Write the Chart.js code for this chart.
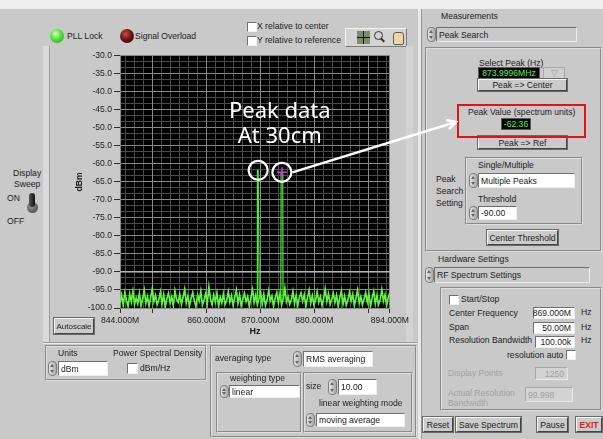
<!DOCTYPE html>
<html>
<head>
<meta charset="utf-8">
<title>RF Spectrum</title>
<script src="https://cdn.jsdelivr.net/npm/chart.js@4.4.1/dist/chart.umd.min.js"></script>
<style>
  body { margin: 0; width: 603px; height: 439px; position: relative; overflow: hidden;
         background: #c9c9c9; font-family: "Liberation Sans", Arial, sans-serif; color: #1c1c1c; }
  .t { position: absolute; white-space: nowrap; font-size: 8.6px; line-height: 10px; }
  .dim { color: #a2a2a2; }
  .fld { position: absolute; display: flex; align-items: center; box-sizing: border-box; background: #fff;
         border: 1px solid; border-color: #707070 #eeeeee #eeeeee #707070; font-size: 8.6px;
         padding-left: 2px; white-space: nowrap; }
  .fld.gray { background: #c9c9c9; }
  .fld.off { background: #d3d3d3; color: #a0a0a0; border-color: #a8a8a8 #e8e8e8 #e8e8e8 #a8a8a8; }
  .fld.num { justify-content: flex-end; padding-right: 3px; }
  .spin { position: absolute; width: 9px; box-sizing: border-box; border-radius: 4px;
          background: linear-gradient(90deg, #e6e6e6, #a9a9a9); border: 1px solid #7c7c7c; }
  .spin::before, .spin::after { content: ''; position: absolute; left: 1px;
          border-left: 2.5px solid transparent; border-right: 2.5px solid transparent; }
  .spin::before { top: 2px; border-bottom: 3px solid #666; }
  .spin::after { bottom: 2px; border-top: 3px solid #666; }
  .btn { position: absolute; display: flex; align-items: center; justify-content: center; box-sizing: border-box;
         background: #cbcbcb; border: 1px solid; border-color: #f7f7f7 #444 #444 #f7f7f7;
         box-shadow: 0 0 0 1px #6a6a6a; font-size: 8.6px; white-space: nowrap; }
  .frm { position: absolute; box-sizing: border-box; border: 2px groove #dedede; }
  .chk { position: absolute; width: 10px; height: 10px; box-sizing: border-box; background: #fff;
         border: 1px solid; border-color: #707070 #f0f0f0 #f0f0f0 #707070; }
  .disp { position: absolute; display: flex; align-items: center; justify-content: center; box-sizing: border-box;
          background: #060606; color: #4cf04c; font-size: 8.6px; border: 1px solid #5a5a5a; }
  .led { position: absolute; width: 14px; height: 14px; border-radius: 50%; }
  #spectrum { position: absolute; left: 44px; top: 44px; }
  #overlay { position: absolute; left: 0; top: 0; pointer-events: none; }
</style>
</head>
<body>

<!-- top strip and status lamps -->
<div style="position:absolute;left:0;top:0;width:603px;height:9px;background:#eeeeee"></div>
<div class="led" style="left:50px;top:29px;background:radial-gradient(circle at 40% 35%, #d8ffb8, #52e03a 45%, #1f9a1f)"></div>
<div class="t" style="left:67px;top:31px">PLL Lock</div>
<div class="led" style="left:120px;top:29px;background:radial-gradient(circle at 40% 35%, #c25050, #6a1010 50%, #2a0404)"></div>
<div class="t" style="left:135px;top:31px">Signal Overload</div>
<div class="chk" style="left:247px;top:22px"></div>
<div class="t" style="left:257px;top:21px">X relative to center</div>
<div class="chk" style="left:247px;top:36px"></div>
<div class="t" style="left:257px;top:35px">Y relative to reference</div>

<!-- graph palette -->
<div style="position:absolute;left:345px;top:28px;width:62px;height:19px;box-sizing:border-box;background:#d3d3d3;border:1px solid;border-color:#f4f4f4 #7a7a7a #7a7a7a #f4f4f4"></div>
<div style="position:absolute;left:357px;top:31px;width:13px;height:13px;background:#7d8c6a"></div>
<div style="position:absolute;left:363px;top:31px;width:1px;height:13px;background:#111"></div>
<div style="position:absolute;left:357px;top:37px;width:13px;height:1px;background:#111"></div>
<div style="position:absolute;left:374px;top:31px;width:7px;height:7px;border:1.5px solid #333;border-radius:50%"></div>
<div style="position:absolute;left:380px;top:39px;width:5px;height:2px;background:#333;transform:rotate(45deg)"></div>
<div style="position:absolute;left:393px;top:32px;width:9px;height:11px;background:#e8d8b0;border:1px solid #6a5a3a;border-radius:3px 3px 2px 2px"></div>

<!-- graph frame -->
<div style="position:absolute;left:43px;top:46px;width:6px;height:297px;background:#dadada"></div>
<div style="position:absolute;left:49px;top:46px;width:1px;height:297px;background:#9c9c9c"></div>
<div style="position:absolute;left:406px;top:46px;width:7px;height:297px;background:#d3d3d3"></div>
<div style="position:absolute;left:43px;top:342px;width:375px;height:1px;background:#9a9a9a"></div>
<div style="position:absolute;left:43px;top:343px;width:375px;height:1px;background:#ececec"></div>
<canvas id="spectrum" width="367" height="300"></canvas>
<div class="btn" style="left:54px;top:318px;width:40px;height:16px;font-size:8px">Autoscale</div>

<!-- sweep switch -->
<div class="t" style="left:13px;top:168px">Display</div>
<div class="t" style="left:14px;top:179px">Sweep</div>
<div class="t" style="left:7px;top:193px">ON</div>
<div class="t" style="left:7px;top:216px">OFF</div>
<div style="position:absolute;left:27px;top:202px;width:11px;height:11px;border-radius:50%;background:radial-gradient(circle at 40% 35%, #9a9a9a, #3a3a3a)"></div>
<div style="position:absolute;left:29px;top:193px;width:6px;height:14px;border-radius:3px;background:linear-gradient(90deg,#555,#111)"></div>

<!-- panel divider -->
<div style="position:absolute;left:418px;top:9px;width:3px;height:430px;background:#e8e8e8"></div>
<div style="position:absolute;left:421px;top:9px;width:1px;height:430px;background:#9a9a9a"></div>

<!-- measurements -->
<div class="t" style="left:441px;top:11px">Measurements</div>
<div class="spin" style="left:427px;top:27px;height:15px"></div>
<div class="fld gray" style="left:436px;top:27px;width:141px;height:15px">Peak Search</div>
<div class="frm" style="left:425px;top:47px;width:177px;height:205px"></div>
<div class="t" style="left:479px;top:58px">Select Peak (Hz)</div>
<div class="disp" id="selPeak" style="left:478px;top:67px;width:62px;height:12px"></div>
<div style="position:absolute;left:543px;top:67px;width:22px;height:12px;box-sizing:border-box;background:#cfcfcf;border:1px solid #a8a8a8;color:#9a9a9a;font-size:9px;line-height:10px;text-align:center">&#9661;</div>
<div class="btn" style="left:478px;top:79px;width:89px;height:12px">Peak =&gt; Center</div>
<div class="btn" style="left:478px;top:136px;width:89px;height:13px">Peak =&gt; Ref</div>
<div id="peakBox" style="position:absolute;left:457px;top:104px;width:129px;height:34px;box-sizing:border-box;border:2px solid #e01414"></div>
<div class="t" style="left:468px;top:107px">Peak Value (spectrum units)</div>
<div class="disp" id="peakVal" style="left:501px;top:118px;width:30px;height:12px"></div>
<div class="t" style="left:436px;top:174px">Peak</div>
<div class="t" style="left:436px;top:186px">Search</div>
<div class="t" style="left:436px;top:198px">Setting</div>
<div class="frm" style="left:465px;top:157px;width:118px;height:68px"></div>
<div class="t" style="left:478px;top:160px">Single/Multiple</div>
<div class="spin" style="left:469px;top:173px;height:15px"></div>
<div class="fld" style="left:478px;top:173px;width:97px;height:15px">Multiple Peaks</div>
<div class="t" style="left:478px;top:194px">Threshold</div>
<div class="spin" style="left:469px;top:206px;height:14px"></div>
<div class="fld" id="thrVal" style="left:478px;top:206px;width:39px;height:14px"></div>
<div class="btn" style="left:487px;top:230px;width:71px;height:15px">Center Threshold</div>

<!-- hardware -->
<div class="t" style="left:438px;top:254px">Hardware Settings</div>
<div class="spin" style="left:425px;top:267px;height:16px"></div>
<div class="fld gray" style="left:434px;top:267px;width:156px;height:16px">RF Spectrum Settings</div>
<div class="frm" style="left:440px;top:287px;width:162px;height:124px"></div>
<div class="chk" style="left:449px;top:295px"></div>
<div class="t" style="left:461px;top:294px">Start/Stop</div>
<div class="t" style="left:449px;top:308px">Center Frequency</div>
<div class="fld num" id="centerVal" style="left:533px;top:307px;width:42px;height:12px"></div>
<div class="t" style="left:581px;top:307px">Hz</div>
<div class="t" style="left:449px;top:322px">Span</div>
<div class="fld num" id="spanVal" style="left:533px;top:322px;width:42px;height:12px"></div>
<div class="t" style="left:581px;top:322px">Hz</div>
<div class="t" style="left:449px;top:335px">Resolution Bandwidth</div>
<div class="fld num" style="left:535px;top:336px;width:40px;height:12px">100.00k</div>
<div class="t" style="left:581px;top:335px">Hz</div>
<div class="t" style="left:507px;top:350px">resolution auto</div>
<div class="chk" style="left:566px;top:350px"></div>
<div class="t dim" style="left:448px;top:368px">Display Points</div>
<div class="fld off num" style="left:535px;top:367px;width:33px;height:13px">1250</div>
<div class="t dim" style="left:448px;top:388px">Actual Resolution</div>
<div class="t dim" style="left:448px;top:398px">Bandwidth</div>
<div class="fld off" style="left:525px;top:387px;width:48px;height:15px">99.998</div>
<div class="btn" style="left:423px;top:417px;width:30px;height:15px">Reset</div>
<div class="btn" style="left:456px;top:417px;width:65px;height:15px">Save Spectrum</div>
<div class="btn" style="left:537px;top:417px;width:31px;height:15px">Pause</div>
<div class="btn" style="left:576px;top:417px;width:26px;height:15px;color:#e01a1a;font-weight:bold">EXIT</div>

<!-- units / averaging -->
<div class="frm" style="left:45px;top:345px;width:162px;height:36px"></div>
<div class="t" style="left:58px;top:348px">Units</div>
<div class="spin" style="left:48px;top:361px;height:15px"></div>
<div class="fld" style="left:58px;top:361px;width:50px;height:15px">dBm</div>
<div class="t" style="left:113px;top:348px">Power Spectral Density</div>
<div class="chk" style="left:127px;top:363px;width:11px;height:11px"></div>
<div class="t" style="left:140px;top:363px">dBm/Hz</div>
<div class="frm" style="left:210px;top:345px;width:207px;height:93px"></div>
<div class="t" style="left:215px;top:353px">averaging type</div>
<div class="spin" style="left:293px;top:351px;height:16px"></div>
<div class="fld" style="left:303px;top:351px;width:70px;height:16px">RMS averaging</div>
<div class="frm" style="left:216px;top:372px;width:86px;height:61px"></div>
<div class="t" style="left:230px;top:373px">weighting type</div>
<div class="spin" style="left:220px;top:385px;height:13px"></div>
<div class="fld" style="left:229px;top:385px;width:71px;height:13px">linear</div>
<div class="frm" style="left:303px;top:372px;width:110px;height:61px"></div>
<div class="t" style="left:306px;top:381px">size</div>
<div class="spin" style="left:328px;top:379px;height:16px"></div>
<div class="fld" style="left:338px;top:379px;width:39px;height:16px">10.00</div>
<div class="t" style="left:319px;top:398px">linear weighting mode</div>
<div class="spin" style="left:306px;top:413px;height:14px"></div>
<div class="fld" style="left:316px;top:413px;width:89px;height:14px">moving average</div>

<svg id="overlay" width="603" height="439"></svg>

<script>
// sweep span (MHz)
const freqStart = 844;
const freqStop = 894;

// spectrum trace, dBm, evenly spaced over the span
const noiseDbm = [
    -98.6, -96.4, -99.2, -95.8, -97.9, -99.6, -96.1, -98.3, -95.4, -99.0, -97.2, -98.8,
    -96.0, -99.4, -97.5, -95.1, -98.7, -96.8, -99.5, -97.0, -94.6, -98.2, -96.5, -99.1,
    -97.8, -95.6, -98.9, -96.3, -99.7, -97.4, -95.9, -98.5, -96.9, -99.3, -95.2, -97.6,
    -98.4, -96.2, -99.0, -97.1, -94.8, -98.6, -96.7, -99.4, -97.3, -95.7, -98.1, -99.6,
    -96.5, -98.0, -95.3, -99.2, -97.7, -96.0, -98.8, -94.2, -97.5, -99.1, -96.4, -98.3,
    -95.8, -99.5, -97.0, -98.6, -96.1, -99.0, -97.9, -95.5, -98.4, -96.6, -99.3, -97.2,
    -95.0, -98.7, -96.3, -99.4, -97.6, -95.9, -98.2, -96.8, -99.6, -97.1, -94.9, -98.5,
    -96.4, -99.1, -97.4, -95.6, -98.9, -96.2, -99.3, -97.8, -95.2, -98.0, -96.7, -99.5,
    -97.3, -95.7, -98.6, -96.0, -99.2, -97.5, -94.5, -98.3, -96.9, -99.0, -97.7, -95.4,
    -98.8, -96.5, -99.4, -97.0, -95.8, -98.1, -96.3, -99.6, -97.2, -95.1, -98.7, -96.6,
    -99.1, -97.9, -95.5, -98.4, -96.8, -99.3, -97.4, -94.7, -98.2, -96.1, -99.0, -97.6,
    -95.9, -98.5, -96.4, -99.5, -97.1, -95.3, -98.9, -96.7, -99.2, -97.8, -95.6, -98.0,
    -96.2, -99.4, -97.3, -95.0, -98.6, -96.9, -99.1, -97.5, -95.7, -98.3, -96.0, -99.6,
    -97.2, -95.4, -98.8, -96.5, -99.0, -97.7, -94.9, -98.1, -96.3, -99.3, -97.0, -95.8
];

// detected peaks (MHz, dBm)
const peakFreqs = [869.6, 873.9996];
const peakDbm = [-61.8, -62.36];
const selectedPeak = 1;
const peakFloorDbm = -97.5;

const thresholdDbm = -90;

// axis ticks
const xTickValues = [844, 850, 860, 870, 880, 890, 894];
const xLabelled = [844, 860, 870, 880, 894];
const yMin = -100;
const yMax = -30;
const yStep = 5;

const noteLines = ['Peak data', 'At 30cm'];
const noteAt = { x: 873.6, y: [-47.4, -54.3] };

const markerRadius = 9.5;
const font = '"Liberation Sans", Arial, sans-serif';

// readouts on the panel come from the same values the graph uses
document.getElementById('selPeak').textContent = peakFreqs[selectedPeak].toFixed(4) + 'MHz';
document.getElementById('peakVal').textContent = peakDbm[selectedPeak].toFixed(2);
document.getElementById('thrVal').textContent = thresholdDbm.toFixed(2);
document.getElementById('centerVal').textContent = ((freqStart + freqStop) / 2).toFixed(3) + 'M';
document.getElementById('spanVal').textContent = (freqStop - freqStart).toFixed(2) + 'M';

const noiseStep = (freqStop - freqStart) / (noiseDbm.length - 1);
const spectrum = noiseDbm.map((v, i) => ({ x: freqStart + i * noiseStep, y: v }));

// each peak is a narrow flat-topped spike, broken from the next one
const peakTrace = [];
peakFreqs.forEach((f, i) => {
    peakTrace.push({ x: f - 0.2, y: peakFloorDbm });
    peakTrace.push({ x: f - 0.15, y: peakDbm[i] });
    peakTrace.push({ x: f, y: peakDbm[i] });
    peakTrace.push({ x: f + 0.15, y: peakDbm[i] });
    peakTrace.push({ x: f + 0.2, y: peakFloorDbm });
    peakTrace.push({ x: f + 0.21, y: null });
});

// minor grid positions
const xMinorTicks = [];
for (let v = 845; v < freqStop; v += 10 / 6) xMinorTicks.push({ value: v });
const yMinorTicks = [];
for (let v = yMin; v <= yMax + 0.01; v += yStep / 3) yMinorTicks.push({ value: v });

const plotBackground = {
    id: 'plotBackground',
    beforeDraw(chart) {
        const { ctx, chartArea: a } = chart;
        ctx.save();
        ctx.fillStyle = '#000';
        ctx.fillRect(a.left, a.top, a.width, a.height);
        ctx.restore();
    }
};

const noteText = {
    id: 'noteText',
    afterDatasetsDraw(chart) {
        const { ctx, scales: { x, y } } = chart;
        ctx.save();
        ctx.fillStyle = '#fff';
        ctx.font = '22px "Noto Sans", sans-serif';
        ctx.textAlign = 'center';
        noteLines.forEach((line, i) => {
            ctx.fillText(line, x.getPixelForValue(noteAt.x), y.getPixelForValue(noteAt.y[i]));
        });
        ctx.restore();
    }
};

const chart = new Chart(document.getElementById('spectrum'), {
    type: 'line',
    data: {
        datasets: [
            {
                label: 'Marker',
                data: peakFreqs.map((f, i) => ({ x: f, y: peakDbm[i] })),
                showLine: false,
                pointRadius: markerRadius,
                pointBorderColor: '#ffffff',
                pointBorderWidth: 2.2,
                pointBackgroundColor: 'transparent',
                order: 0
            },
            {
                label: 'Cursor',
                data: [{ x: peakFreqs[selectedPeak], y: peakDbm[selectedPeak] }],
                showLine: false,
                pointStyle: 'cross',
                pointRadius: 5,
                pointBorderColor: '#e030e0',
                pointBorderWidth: 1.5,
                order: 0
            },
            {
                label: 'Peaks',
                data: peakTrace,
                borderColor: '#4fe83a',
                borderWidth: 1.2,
                pointRadius: 0,
                order: 1
            },
            {
                label: 'Spectrum',
                data: spectrum,
                borderColor: '#5cf83a',
                borderWidth: 1.7,
                pointRadius: 0,
                order: 2
            },
            {
                label: 'Threshold',
                data: [{ x: freqStart, y: thresholdDbm }, { x: freqStop, y: thresholdDbm }],
                borderColor: '#d8d8d8',
                borderWidth: 1,
                pointRadius: 0,
                order: 3
            }
        ]
    },
    options: {
        responsive: false,
        animation: false,
        events: [],
        layout: { padding: { left: 26, right: 20, top: 9, bottom: 0 } },
        plugins: { legend: { display: false }, tooltip: { enabled: false } },
        scales: {
            x: {
                type: 'linear',
                position: 'bottom',
                min: freqStart,
                max: freqStop,
                afterBuildTicks: s => { s.ticks = xTickValues.map(v => ({ value: v })); },
                afterFit: s => { s.height = 36; },
                ticks: {
                    autoSkip: false,
                    maxRotation: 0,
                    padding: 2,
                    color: '#202020',
                    font: { size: 8.6, family: font },
                    callback: v => xLabelled.includes(v) ? v.toFixed(3) + 'M' : ''
                },
                grid: { color: '#8a8a8a', tickColor: '#303030', tickLength: 5, z: -1 },
                border: { display: false },
                title: {
                    display: true, text: 'Hz', color: '#1a1a1a',
                    font: { size: 9, weight: 'bold', family: font },
                    padding: { top: 0, bottom: 7 }
                }
            },
            xMinor: {
                type: 'linear',
                position: 'bottom',
                min: freqStart,
                max: freqStop,
                afterBuildTicks: s => { s.ticks = xMinorTicks; },
                afterFit: s => { s.height = 0; },
                ticks: { display: false },
                grid: { color: '#4a4a4a', drawTicks: false, z: -2 },
                border: { display: false }
            },
            y: {
                min: yMin,
                max: yMax,
                afterFit: s => { s.width = 50; },
                ticks: {
                    stepSize: yStep,
                    padding: 2,
                    color: '#202020',
                    font: { size: 8.6, family: font },
                    callback: v => v.toFixed(1)
                },
                grid: { color: '#8a8a8a', tickColor: '#303030', tickLength: 6, z: -1 },
                border: { display: false },
                title: {
                    display: true, text: 'dBm', color: '#1a1a1a',
                    font: { size: 8.6, weight: 'bold', family: font },
                    padding: { top: 4, bottom: 0 }
                }
            },
            yMinor: {
                position: 'left',
                min: yMin,
                max: yMax,
                afterBuildTicks: s => { s.ticks = yMinorTicks; },
                afterFit: s => { s.width = 0; },
                ticks: { display: false },
                grid: { color: '#4a4a4a', drawTicks: false, z: -2 },
                border: { display: false }
            }
        }
    },
    plugins: [plotBackground, noteText]
});

// white arrow from the selected peak marker to the peak value readout
const cv = document.getElementById('spectrum');
const box = document.getElementById('peakBox');
const sx = cv.offsetLeft + chart.scales.x.getPixelForValue(peakFreqs[selectedPeak]) + markerRadius + 1;
const sy = cv.offsetTop + chart.scales.y.getPixelForValue(peakDbm[selectedPeak]);
const ex = box.offsetLeft - 1;
const ey = box.offsetTop + 18;
const ang = Math.atan2(ey - sy, ex - sx);
const head = [ang - 0.5, ang + 0.5].map(a => `${ex - 10 * Math.cos(a)},${ey - 10 * Math.sin(a)}`);
document.getElementById('overlay').innerHTML =
    `<line x1="${sx}" y1="${sy}" x2="${ex}" y2="${ey}" stroke="#fff" stroke-width="2.5"/>` +
    `<polyline points="${head[0]} ${ex},${ey} ${head[1]}" fill="none" stroke="#fff" stroke-width="2.5"/>`;
</script>
</body>
</html>
